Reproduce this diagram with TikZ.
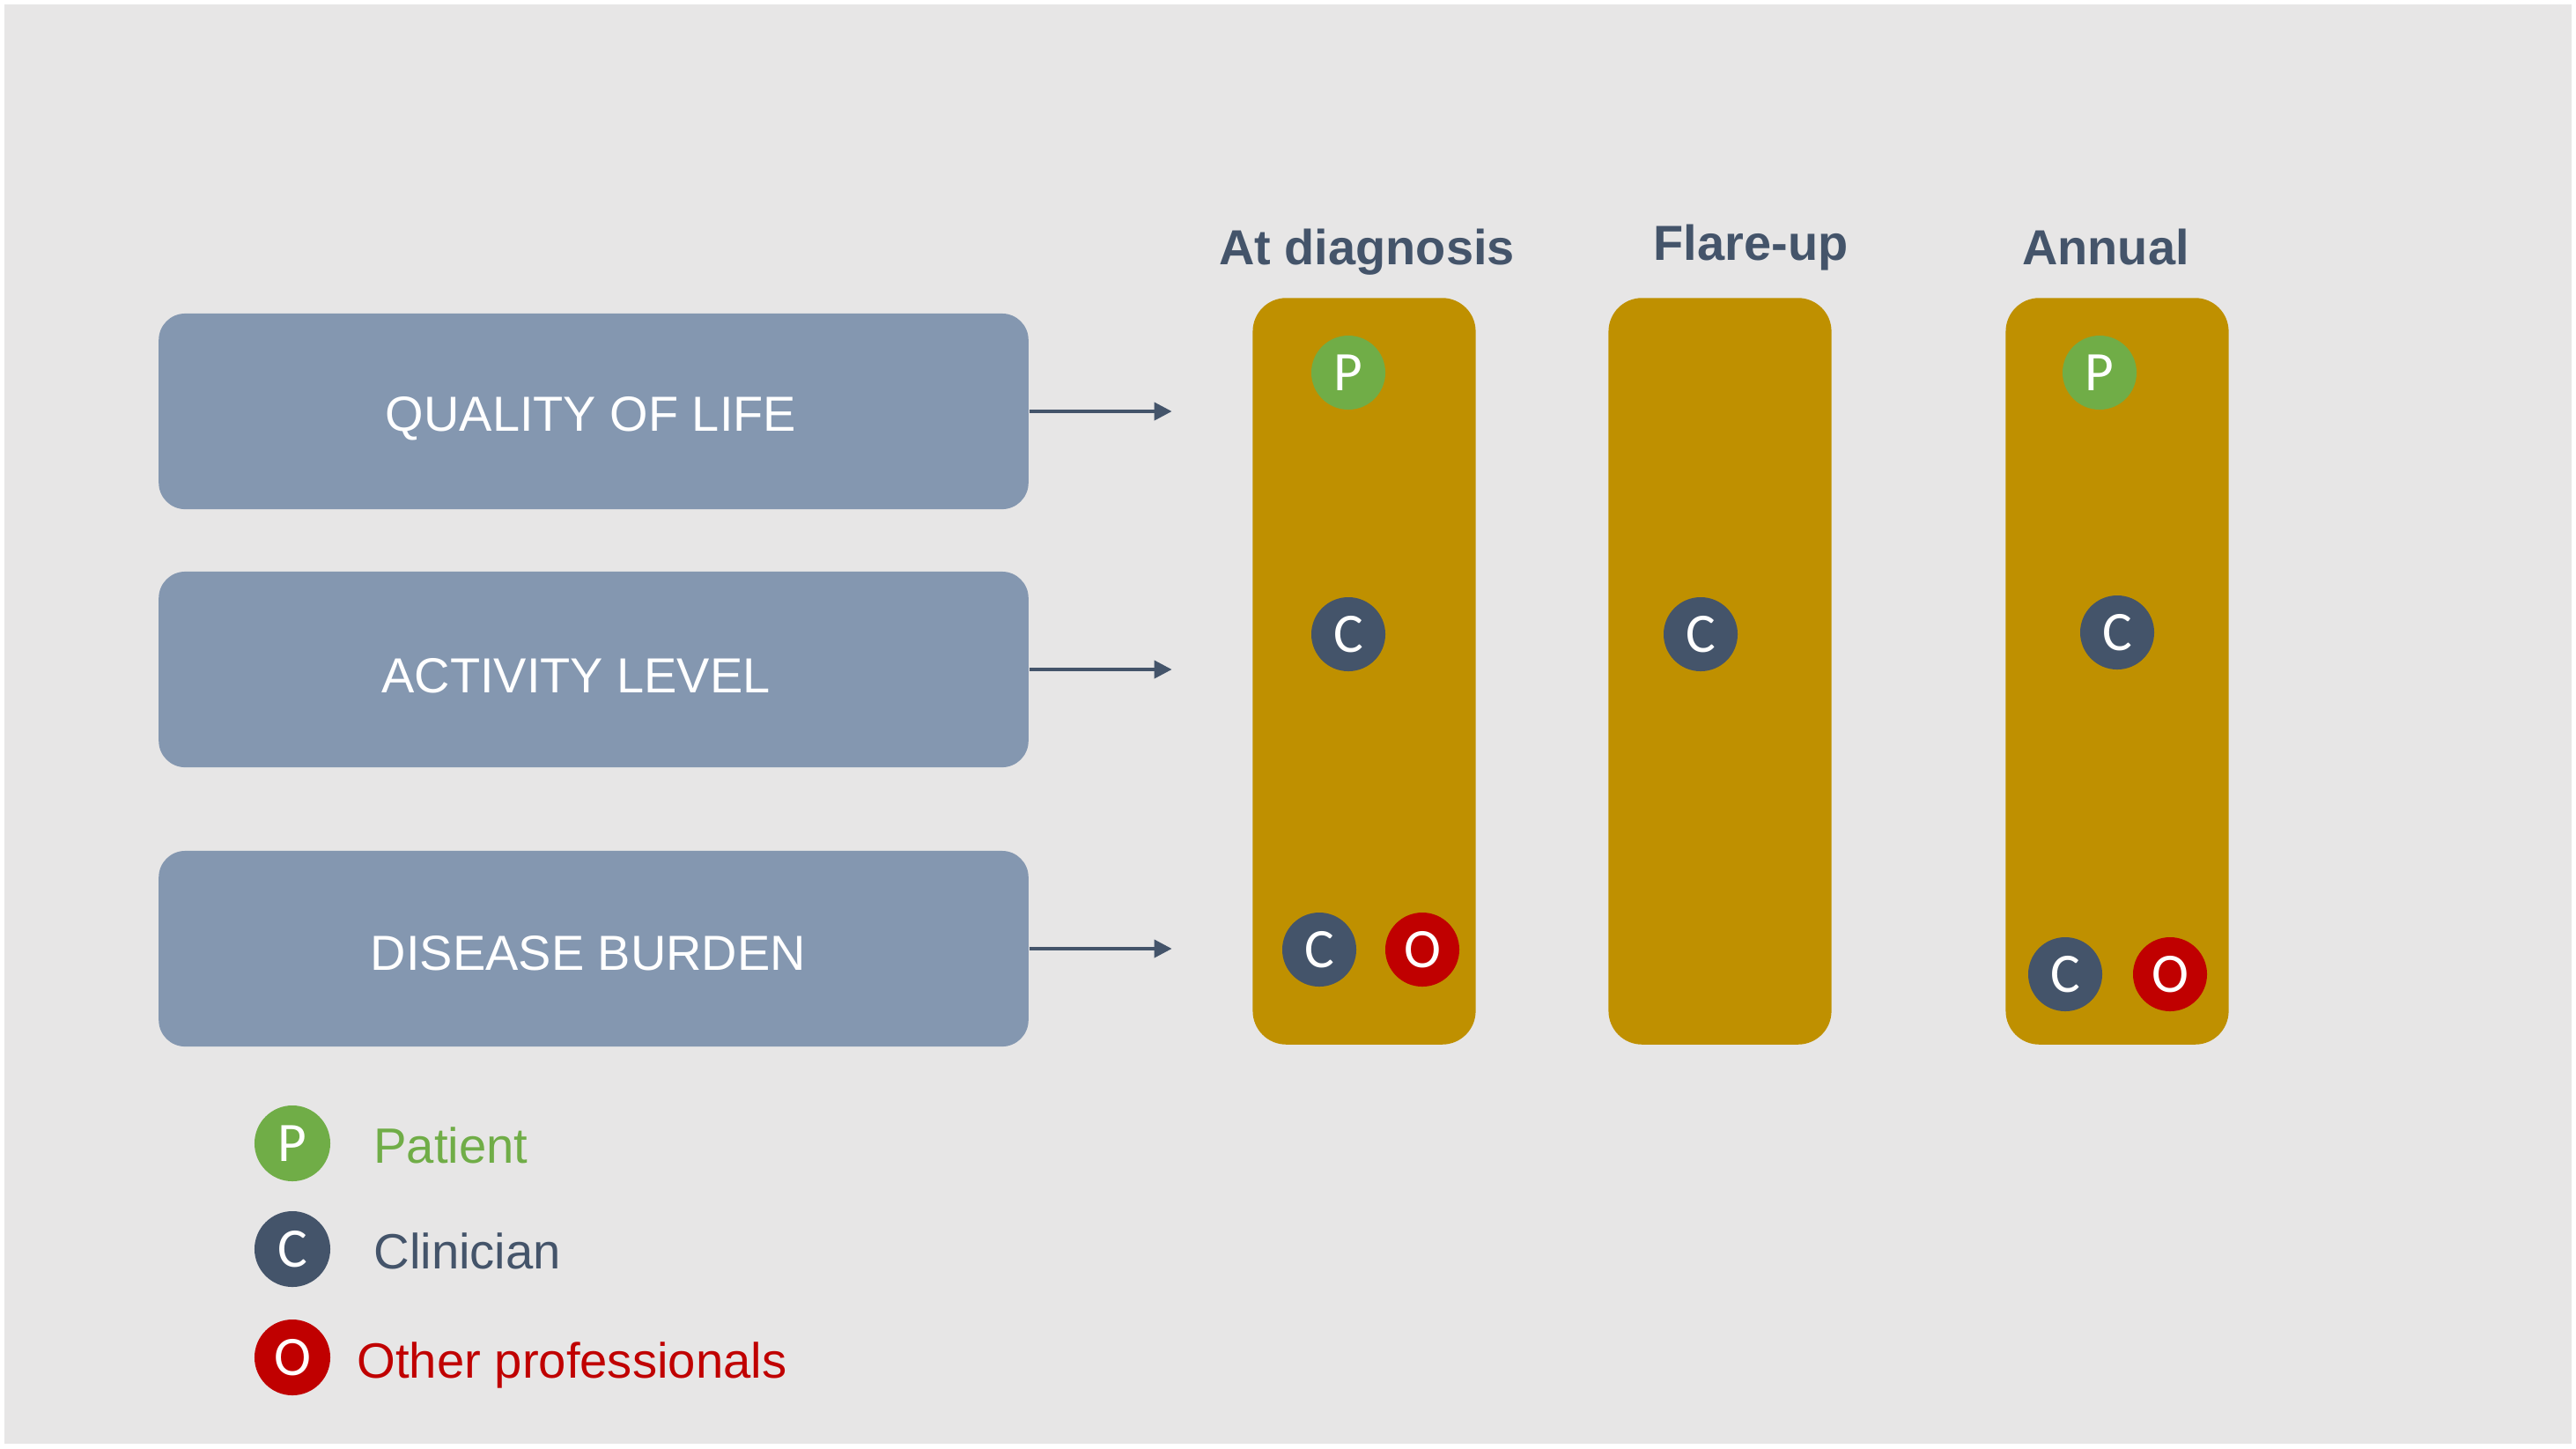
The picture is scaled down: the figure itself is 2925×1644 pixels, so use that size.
\documentclass[tikz,border=0pt]{standalone}
\usepackage{fontspec}
\setmainfont{Liberation Sans}
\newfontfamily\letterfont{Carlito}
\usetikzlibrary{arrows.meta,positioning}
\definecolor{bgpanel}{HTML}{E7E6E6}
\definecolor{measure}{HTML}{8497B0}
\definecolor{slate}{HTML}{44546A}
\definecolor{visit}{HTML}{BF9000}
\definecolor{patient}{HTML}{70AD47}
\definecolor{other}{HTML}{C00000}

\begin{document}
\begin{tikzpicture}[
  x=0.01cm,y=-0.01cm,
  measurebox/.style={fill=measure,rounded corners=0.3cm,minimum width=9.87cm,minimum height=2.22cm},
  measuretext/.style={anchor=base,text=white,font=\fontsize{15.9pt}{18pt}\selectfont},
  visitcol/.style={fill=visit,rounded corners=0.38cm,minimum width=2.53cm,minimum height=8.47cm},
  header/.style={anchor=base,text=slate,font=\fontsize{15.9pt}{18pt}\selectfont\bfseries},
  role/.style={circle,minimum size=0.84cm,inner sep=0pt,text=white,font=\letterfont\fontsize{18pt}{20pt}\selectfont},
  legend/.style={anchor=base west,font=\fontsize{16pt}{18pt}\selectfont},
  link/.style={slate,line width=1.1pt,-{Triangle[length=0.2cm,width=0.2cm]}},
]
  % Page and panel
  \useasboundingbox (0,0) rectangle (2925,1644);
  \fill[white] (0,0) rectangle (2925,1644);
  \fill[bgpanel] (5,5) rectangle (2920,1639);

  % Measures (left)
  \node[measurebox] (quality) at (674,467) {};
  \node[measurebox] (activity) at (674,760) {};
  \node[measurebox] (burden) at (674,1077) {};
  \node[measuretext] (tquality) at (671,489) {QUALITY OF LIFE};
  \node[measuretext] (tactivity) at (654,786) {ACTIVITY LEVEL};
  \node[measuretext] (tburden) at (668,1101) {DISEASE BURDEN};

  % Arrows
  \coordinate[right=1.62cm of quality.east] (qend);
  \coordinate[right=1.62cm of activity.east] (aend);
  \coordinate[right=1.62cm of burden.east] (bend);
  \draw[link] (quality) -- (qend);
  \draw[link] (activity) -- (aend);
  \draw[link] (burden) -- (bend);

  % Visit columns
  \node[visitcol] (diag) at (1549,762) {};
  \node[visitcol] (flare) at (1953,762) {};
  \node[visitcol] (annual) at (2404,762) {};
  \node[header] (hdiag) at (1552,300) {At diagnosis};
  \node[header] (hflare) at (1988,295) {Flare-up};
  \node[header] (hannual) at (2391,300) {Annual};

  % At diagnosis
  \node[role,fill=patient] (dp) at (1531,423) {P};
  \node[role,fill=slate] (dc) at (1531,720) {C};
  \node[role,fill=slate] (dc2) at (1498,1078) {C};
  \node[role,fill=other] (do) at (1615,1078) {O};

  % Flare-up
  \node[role,fill=slate] (fc) at (1931,720) {C};

  % Annual
  \node[role,fill=patient] (ap) at (2384,423) {P};
  \node[role,fill=slate] (ac) at (2404,718) {C};
  \node[role,fill=slate] (ac2) at (2345,1106) {C};
  \node[role,fill=other] (ao) at (2464,1106) {O};

  % Legend
  \node[role,fill=patient,minimum size=0.86cm] (lp) at (332,1298) {P};
  \node[role,fill=slate,minimum size=0.86cm] (lc) at (332,1418) {C};
  \node[role,fill=other,minimum size=0.86cm] (lo) at (332,1541) {O};
  \node[legend,text=patient] (tp) at (412,1320) {Patient};
  \node[legend,text=slate] (tc) at (412,1440) {Clinician};
  \node[legend,text=other] (to) at (393,1564) {Other professionals};
\end{tikzpicture}
\end{document}
